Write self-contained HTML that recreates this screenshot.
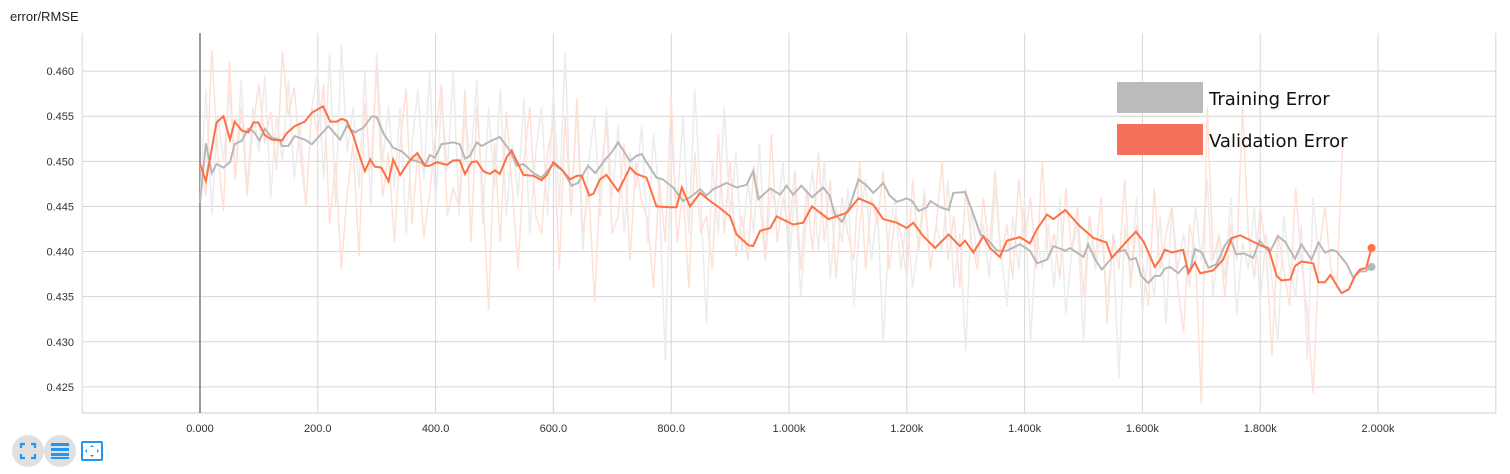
<!DOCTYPE html>
<html><head><meta charset="utf-8"><style>
body{margin:0;background:#fff;font-family:"Liberation Sans",sans-serif;}
svg{display:block}
</style></head><body>
<svg id="chart" width="1510" height="474">
<text x="10" y="21" font-size="13" fill="#222">error/RMSE</text>
<g id="grid"></g><g id="raw"></g><g id="smooth"></g><g id="labels"></g>
<g>
<rect x="1117" y="82" width="86" height="31" fill="#bbbbbb"/>
<text x="1209" y="105" font-size="18" font-family="DejaVu Sans, sans-serif" fill="#111">Training Error</text>
<rect x="1117" y="124" width="86" height="31" fill="#f4705a"/>
<text x="1209" y="147" font-size="18" font-family="DejaVu Sans, sans-serif" fill="#111">Validation Error</text>
</g>
<g><circle cx="28" cy="451" r="16" fill="#e0e0e0"/>
<path d="M21 448v-4h4M31 444h4v4M35 454v4h-4M25 458h-4v-4" stroke="#2196f3" stroke-width="2.2" fill="none"/></g>
<g><circle cx="60" cy="451" r="16" fill="#e0e0e0"/>
<rect x="51" y="443" width="18" height="3" fill="#2196f3"/><rect x="51" y="448" width="18" height="3" fill="#2196f3"/><rect x="51" y="453" width="18" height="3" fill="#2196f3"/><rect x="51" y="457" width="18" height="2" fill="#2196f3"/></g>
<g><rect x="82" y="442" width="20" height="18" rx="1" fill="none" stroke="#2196f3" stroke-width="2"/>
<path d="M92 445l-2 2h4zM92 457l-2-2h4zM85 451l2-2v4zM99 451l-2-2v4z" fill="#2196f3"/></g>
</svg>
<script>
const xTicks=[0,200,400,600,800,1000,1200,1400,1600,1800,2000];
const xTickLabels=["0.000","200.0","400.0","600.0","800.0","1.000k","1.200k","1.400k","1.600k","1.800k","2.000k"];
const yTicks=[0.425,0.430,0.435,0.440,0.445,0.450,0.455,0.460];
const yTickLabels=["0.425","0.430","0.435","0.440","0.445","0.450","0.455","0.460"];
const valSteps=[0,10,28,40,51,59,71,82,91,99,110,122,139,147,161,178,190,209,221,232,241,249,260,272,280,289,297,308,320,328,340,354,362,369,382,390,402,419,430,441,450,461,470,481,492,501,509,521,529,538,549,566,580,589,600,614,628,640,648,661,668,679,690,710,730,741,758,775,798,809,818,832,849,866,883,900,911,931,939,951,968,979,1007,1024,1039,1067,1098,1118,1143,1160,1183,1200,1211,1228,1248,1271,1290,1299,1313,1330,1341,1358,1370,1392,1409,1421,1438,1449,1469,1494,1517,1539,1548,1573,1589,1602,1621,1630,1638,1650,1669,1678,1689,1698,1720,1737,1752,1766,1788,1803,1814,1828,1836,1851,1859,1870,1890,1899,1910,1919,1938,1950,1961,1969,1980,1989];
const valSmooth=[0.4497,0.4478,0.4543,0.4550,0.4524,0.4544,0.4534,0.4532,0.4543,0.4543,0.4529,0.4524,0.4523,0.4531,0.4539,0.4544,0.4554,0.4561,0.4544,0.4544,0.4547,0.4545,0.4529,0.4504,0.4489,0.4502,0.4494,0.4493,0.4478,0.4502,0.4485,0.4499,0.4505,0.4509,0.4495,0.4495,0.4499,0.4496,0.4501,0.4501,0.4486,0.4499,0.4500,0.4489,0.4486,0.4490,0.4486,0.4505,0.4512,0.4500,0.4485,0.4484,0.4479,0.4485,0.4499,0.4491,0.4480,0.4484,0.4484,0.4462,0.4464,0.4480,0.4485,0.4467,0.4493,0.4486,0.4482,0.4450,0.4449,0.4449,0.4471,0.4450,0.4465,0.4456,0.4448,0.4439,0.4419,0.4407,0.4406,0.4423,0.4426,0.4439,0.4430,0.4432,0.4450,0.4436,0.4443,0.4459,0.4452,0.4436,0.4432,0.4426,0.4432,0.4417,0.4404,0.4419,0.4406,0.4412,0.4399,0.4417,0.4404,0.4394,0.4412,0.4416,0.4409,0.4425,0.4441,0.4436,0.4446,0.4428,0.4415,0.4410,0.4393,0.4411,0.4422,0.4411,0.4383,0.4391,0.4402,0.4399,0.4402,0.4376,0.4388,0.4376,0.4379,0.4391,0.4415,0.4418,0.4411,0.4406,0.4404,0.4373,0.4368,0.4369,0.4384,0.4389,0.4387,0.4366,0.4366,0.4374,0.4354,0.4358,0.4373,0.4380,0.4382,0.4404];
const trainSteps=[0,10,20,28,40,51,59,71,82,91,101,110,122,136,139,150,161,178,190,218,238,249,263,277,292,300,312,328,343,357,374,382,390,399,410,430,441,450,458,470,478,495,509,526,538,549,566,580,600,617,631,642,659,671,688,699,710,730,741,750,758,775,786,803,820,832,849,860,871,894,911,928,939,948,968,985,996,1007,1021,1039,1058,1069,1078,1090,1103,1118,1132,1143,1160,1171,1183,1200,1209,1220,1234,1240,1257,1271,1279,1299,1316,1325,1339,1353,1370,1392,1409,1421,1438,1449,1469,1477,1500,1508,1520,1531,1556,1570,1579,1589,1598,1610,1621,1630,1638,1647,1661,1672,1681,1689,1701,1712,1726,1740,1749,1759,1773,1788,1799,1816,1830,1842,1859,1870,1887,1899,1910,1922,1930,1947,1958,1969,1978,1989];
const trainSmooth=[0.4454,0.4520,0.4487,0.4497,0.4493,0.4499,0.4519,0.4523,0.4536,0.4533,0.4523,0.4536,0.4526,0.4524,0.4517,0.4517,0.4528,0.4524,0.4519,0.4539,0.4524,0.4539,0.4532,0.4537,0.4550,0.4549,0.4530,0.4515,0.4511,0.4502,0.4499,0.4495,0.4507,0.4504,0.4519,0.4521,0.4519,0.4503,0.4506,0.4521,0.4517,0.4523,0.4527,0.4512,0.4495,0.4497,0.4487,0.4482,0.4497,0.4489,0.4473,0.4476,0.4495,0.4487,0.4502,0.4510,0.4521,0.4500,0.4506,0.4508,0.4499,0.4482,0.4480,0.4471,0.4456,0.4460,0.4469,0.4462,0.4469,0.4476,0.4471,0.4474,0.4489,0.4458,0.4470,0.4463,0.4473,0.4463,0.4473,0.4460,0.4471,0.4462,0.4441,0.4433,0.4450,0.4480,0.4473,0.4465,0.4476,0.4462,0.4455,0.4459,0.4456,0.4445,0.4449,0.4456,0.4449,0.4446,0.4465,0.4466,0.4436,0.4419,0.4412,0.4401,0.4401,0.4408,0.4401,0.4387,0.4391,0.4406,0.4401,0.4404,0.4394,0.4408,0.4391,0.4380,0.4399,0.4402,0.4391,0.4393,0.4373,0.4365,0.4373,0.4373,0.4381,0.4383,0.4376,0.4384,0.4379,0.4403,0.4399,0.4382,0.4386,0.4407,0.4414,0.4397,0.4398,0.4393,0.4412,0.4399,0.4417,0.4411,0.4392,0.4408,0.4391,0.4410,0.4399,0.4402,0.4400,0.4386,0.4371,0.4378,0.4378,0.4383];
const rawSteps=[0,10,20,30,40,50,60,70,80,90,100,110,120,130,140,150,160,170,180,190,200,210,220,230,240,250,260,270,280,290,300,310,320,330,340,350,360,370,380,390,400,410,420,430,440,450,460,470,480,490,500,510,520,530,540,550,560,570,580,590,600,610,620,630,640,650,660,670,680,690,700,710,720,730,740,750,760,770,780,790,800,810,820,830,840,850,860,870,880,890,900,910,920,930,940,950,960,970,980,990,1000,1010,1020,1030,1040,1050,1060,1070,1080,1090,1100,1110,1120,1130,1140,1150,1160,1170,1180,1190,1200,1210,1220,1230,1240,1250,1260,1270,1280,1290,1300,1310,1320,1330,1340,1350,1360,1370,1380,1390,1400,1410,1420,1430,1440,1450,1460,1470,1480,1490,1500,1510,1520,1530,1540,1550,1560,1570,1580,1590,1600,1610,1620,1630,1640,1650,1660,1670,1680,1690,1700,1710,1720,1730,1740,1750,1760,1770,1780,1790,1800,1810,1820,1830,1840,1850,1860,1870,1880,1890,1900,1910,1920,1930,1940,1950,1960,1970,1980,1990];
const valRaw=[0.4497,0.4462,0.4623,0.4510,0.4445,0.4610,0.4480,0.4560,0.4462,0.4540,0.4585,0.4520,0.4555,0.4490,0.4622,0.4550,0.4582,0.4510,0.4450,0.4560,0.4530,0.4585,0.4430,0.4500,0.4380,0.4465,0.4520,0.4395,0.4565,0.4490,0.4605,0.4460,0.4510,0.4410,0.4520,0.4580,0.4430,0.4510,0.4415,0.4465,0.4530,0.4585,0.4440,0.4470,0.4450,0.4580,0.4410,0.4560,0.4470,0.4335,0.4520,0.4410,0.4555,0.4470,0.4380,0.4500,0.4560,0.4440,0.4420,0.4510,0.4540,0.4380,0.4550,0.4440,0.4570,0.4420,0.4470,0.4345,0.4480,0.4545,0.4420,0.4440,0.4520,0.4390,0.4500,0.4455,0.4435,0.4360,0.4480,0.4410,0.4570,0.4410,0.4470,0.4360,0.4510,0.4420,0.4440,0.4380,0.4530,0.4420,0.4500,0.4395,0.4440,0.4390,0.4495,0.4460,0.4390,0.4530,0.4410,0.4460,0.4420,0.4490,0.4380,0.4470,0.4400,0.4510,0.4410,0.4480,0.4370,0.4460,0.4420,0.4390,0.4500,0.4380,0.4460,0.4430,0.4490,0.4380,0.4440,0.4420,0.4370,0.4480,0.4400,0.4460,0.4380,0.4430,0.4500,0.4390,0.4440,0.4360,0.4470,0.4410,0.4380,0.4460,0.4400,0.4490,0.4390,0.4430,0.4370,0.4480,0.4410,0.4460,0.4380,0.4500,0.4390,0.4420,0.4370,0.4470,0.4400,0.4450,0.4350,0.4440,0.4390,0.4460,0.4320,0.4420,0.4380,0.4480,0.4360,0.4430,0.4390,0.4340,0.4470,0.4380,0.4420,0.4450,0.4360,0.4310,0.4430,0.4400,0.4232,0.4560,0.4390,0.4420,0.4350,0.4430,0.4390,0.4560,0.4420,0.4370,0.4450,0.4400,0.4285,0.4420,0.4380,0.4340,0.4470,0.4390,0.4330,0.4243,0.4400,0.4450,0.4380,0.4360,0.4523];
const trainRaw=[0.4454,0.4580,0.4440,0.4550,0.4500,0.4580,0.4480,0.4590,0.4470,0.4560,0.4510,0.4595,0.4460,0.4550,0.4500,0.4590,0.4480,0.4540,0.4450,0.4560,0.4600,0.4480,0.4620,0.4450,0.4630,0.4510,0.4560,0.4470,0.4600,0.4450,0.4620,0.4500,0.4560,0.4470,0.4560,0.4420,0.4520,0.4580,0.4480,0.4600,0.4450,0.4570,0.4490,0.4600,0.4440,0.4550,0.4500,0.4590,0.4430,0.4560,0.4470,0.4580,0.4440,0.4520,0.4460,0.4570,0.4420,0.4510,0.4560,0.4440,0.4580,0.4450,0.4620,0.4440,0.4560,0.4400,0.4500,0.4550,0.4440,0.4560,0.4460,0.4540,0.4420,0.4510,0.4470,0.4540,0.4410,0.4530,0.4460,0.4280,0.4520,0.4450,0.4550,0.4420,0.4580,0.4460,0.4320,0.4500,0.4420,0.4560,0.4440,0.4510,0.4400,0.4480,0.4420,0.4520,0.4390,0.4470,0.4440,0.4500,0.4380,0.4470,0.4350,0.4440,0.4490,0.4400,0.4500,0.4370,0.4450,0.4410,0.4470,0.4340,0.4430,0.4480,0.4390,0.4450,0.4300,0.4420,0.4460,0.4380,0.4440,0.4360,0.4410,0.4470,0.4380,0.4430,0.4400,0.4480,0.4360,0.4420,0.4290,0.4450,0.4390,0.4430,0.4370,0.4470,0.4400,0.4340,0.4440,0.4380,0.4460,0.4300,0.4420,0.4380,0.4430,0.4360,0.4460,0.4330,0.4400,0.4430,0.4300,0.4440,0.4380,0.4420,0.4350,0.4410,0.4260,0.4430,0.4370,0.4460,0.4330,0.4400,0.4350,0.4440,0.4320,0.4450,0.4380,0.4420,0.4360,0.4450,0.4390,0.4480,0.4350,0.4420,0.4370,0.4460,0.4330,0.4410,0.4380,0.4450,0.4340,0.4420,0.4370,0.4300,0.4440,0.4380,0.4350,0.4430,0.4280,0.4460,0.4383];

const NS="http://www.w3.org/2000/svg";
const L=82,R=1496,T=33,B=413;
const xMin=-200.3,xMax=2200.3,yMin=0.42211,yMax=0.46422;
const sx=s=>L+(s-xMin)/(xMax-xMin)*(R-L);
const sy=v=>B-(v-yMin)/(yMax-yMin)*(B-T);
function mk(tag,attrs,parent){const e=document.createElementNS(NS,tag);for(const k in attrs)e.setAttribute(k,attrs[k]);parent.appendChild(e);return e;}
const grid=document.getElementById('grid'),lab=document.getElementById('labels');
yTicks.forEach((v,i)=>{
  const ln=mk('line',{x1:L,x2:R,y1:sy(v),y2:sy(v),stroke:'#d6d6d6','stroke-width':1},grid);
  
  
  const t=mk('text',{x:74,y:sy(v)+4,'text-anchor':'end','font-size':11,fill:'#333'},lab);
  t.textContent=yTickLabels[i];
  
  
});
const extraX=[-200,2200];
extraX.concat(xTicks).forEach(s=>{
  const ln=mk('line',{x1:sx(s),x2:sx(s),y1:T,y2:B,stroke:'#d6d6d6','stroke-width':1},grid);
  
  
});
xTicks.forEach((s,i)=>{
  const t=mk('text',{x:sx(s),y:432,'text-anchor':'middle','font-size':11,fill:'#333'},lab);
  t.textContent=xTickLabels[i];
  
  
});
const ax=mk('line',{x1:L,x2:R,y1:B,y2:B,stroke:'#ccc','stroke-width':1},grid);


const zl=mk('line',{x1:sx(0),x2:sx(0),y1:T,y2:B,stroke:'#999','stroke-width':2},grid);


function path(steps,vals){return steps.map((s,i)=>(i?'L':'M')+sx(s).toFixed(1)+' '+sy(vals[i]).toFixed(1)).join('');}
const raw=document.getElementById('raw'),sm=document.getElementById('smooth');
const tr=mk('path',{d:path(rawSteps,trainRaw),fill:'none',stroke:'#ececec','stroke-width':1.5},raw);


const vr=mk('path',{d:path(rawSteps,valRaw),fill:'none',stroke:'#ffe0d6','stroke-width':1.5},raw);


const ts=mk('path',{d:path(trainSteps,trainSmooth),fill:'none',stroke:'#b8b8b8','stroke-width':2},sm);


const vs=mk('path',{d:path(valSteps,valSmooth),fill:'none',stroke:'#ff7043','stroke-width':2},sm);


const td=mk('circle',{cx:sx(trainSteps[trainSteps.length-1]),cy:sy(trainSmooth[trainSmooth.length-1]),r:4,fill:'#b8b8b8'},sm);


const vd=mk('circle',{cx:sx(valSteps[valSteps.length-1]),cy:sy(valSmooth[valSmooth.length-1]),r:4,fill:'#ff7043'},sm);


</script>
</body></html>
